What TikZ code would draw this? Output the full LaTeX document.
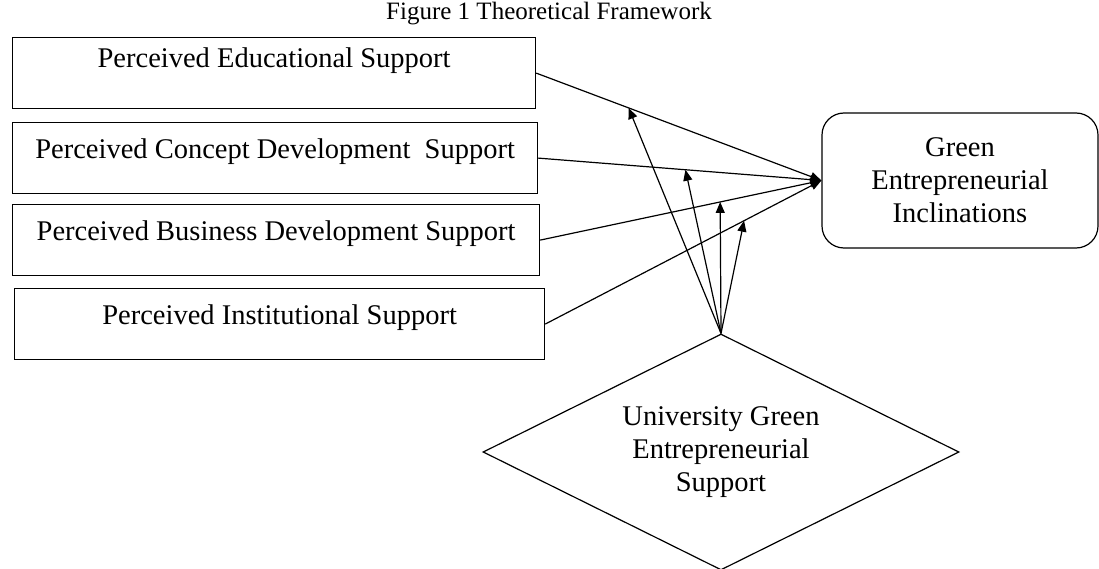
\documentclass[tikz,border=0pt]{standalone}
\usepackage{fontspec}
\setmainfont{Liberation Serif}
\usetikzlibrary{arrows.meta,shapes.geometric}
\begin{document}
\begin{tikzpicture}[x=1pt,y=-1pt,line width=1.2pt,
  txt/.style={font=\fontsize{28.5}{33}\selectfont},
  box/.style={txt,draw,rectangle,anchor=north west,minimum height=71pt,
    text height=27pt,text depth=26pt,inner xsep=4pt,inner ysep=9pt},
  outcome/.style={txt,draw,rectangle,rounded corners=22pt,minimum width=276pt,
    minimum height=135pt,align=center},
  moder/.style={txt,draw,diamond,aspect=2,minimum width=476pt,minimum height=236pt,
    inner sep=0pt,align=center},
  arr/.style={-{Triangle[length=11pt,width=9pt]}}]
\useasboundingbox (0,0) rectangle (1099,569);
\node[font=\fontsize{25}{30}\selectfont,inner sep=0pt,anchor=base] (title) at (549,20) {Figure 1 Theoretical Framework};
\node[box,minimum width=523pt,text height=21pt,text depth=32pt] (b1) at (12,37) {Perceived Educational Support};
\node[box,minimum width=525pt] (b2) at (12,122) {Perceived Concept Development\ \ Support};
\node[box,minimum width=527pt] (b3) at (12,204) {Perceived Business Development Support};
\node[box,minimum width=530pt] (b4) at (14,288) {Perceived Institutional Support};
\node[outcome] (g) at (960,180.5) {Green\\Entrepreneurial\\Inclinations};
\node[moder] (d) at (721,452) {University Green\\Entrepreneurial\\Support};
\foreach \b in {b1,b2,b3,b4} \draw[arr] (\b.east) -- (g.west);
\path (b1.east) -- (g.west) coordinate[pos=0.324] (m1);
\path (b2.east) -- (g.west) coordinate[pos=0.52] (m2);
\path (b3.east) -- (g.west) coordinate[pos=0.64] (m3);
\path (b4.east) -- (g.west) coordinate[pos=0.72] (m4);
\foreach \m in {m1,m2,m3,m4} \draw[arr] (d.north) -- (\m);
\end{tikzpicture}
\end{document}
